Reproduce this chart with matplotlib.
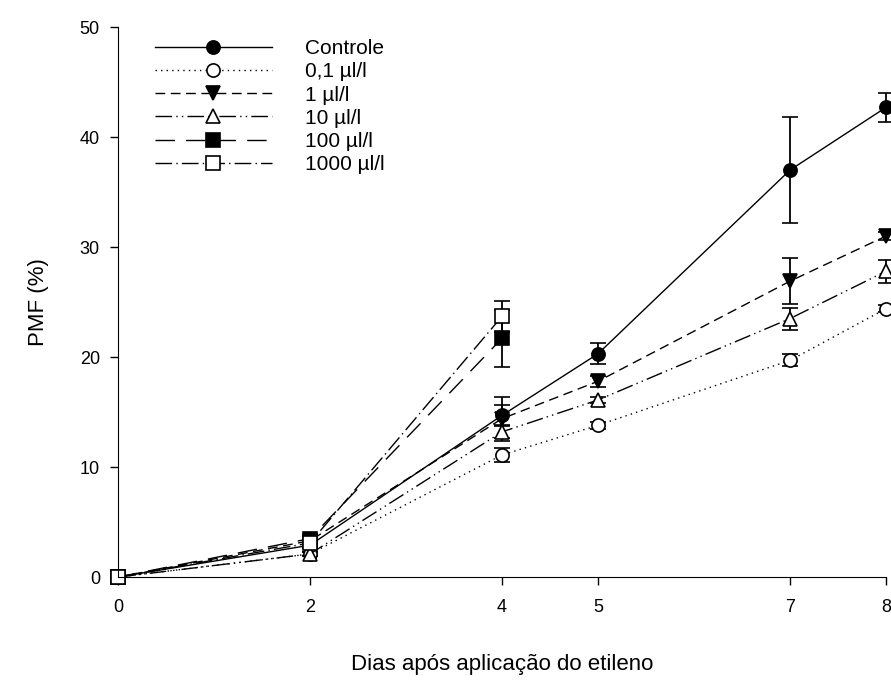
import matplotlib
matplotlib.use("Agg")
import matplotlib.pyplot as plt

plt.rcParams['font.family'] = ['Liberation Sans', 'DejaVu Sans']

W, H = 8.91, 6.87

days = [0, 2, 4, 5, 7, 8]
days_short = [0, 2, 4]

controle = [0, 2.9, 14.7, 20.3, 37.0, 42.7]
controle_err = [0, 0.3, 0.9, 0.95, 4.8, 1.35]
d01 = [0, 2.1, 11.1, 13.8, 19.7, 24.4]
d01_err = [0, 0.2, 0.6, 0.3, 0.55, 0.3]
d1 = [0, 3.3, 14.4, 17.8, 26.9, 31.0]
d1_err = [0, 0.3, 2.0, 0.5, 2.1, 0.4]
d10 = [0, 2.1, 13.2, 16.1, 23.5, 27.8]
d10_err = [0, 0.2, 0.55, 0.3, 1.0, 1.05]
d100 = [0, 3.5, 21.7]
d100_err = [0, 0.2, 2.6]
d1000 = [0, 3.1, 23.7]
d1000_err = [0, 0.2, 1.4]

labels = ['Controle', '0,1 µl/l', '1 µl/l', '10 µl/l', '100 µl/l', '1000 µl/l']

series = [
    (days, controle, controle_err, '-', 'o', 'black'),
    (days, d01, d01_err, (0, (1, 3)), 'o', 'white'),
    (days, d1, d1_err, (0, (7, 4)), 'v', 'black'),
    (days, d10, d10_err, (0, (12, 3, 1, 3, 1, 3)), '^', 'white'),
    (days_short, d100, d100_err, (0, (14, 8)), 's', 'black'),
    (days_short, d1000, d1000_err, (0, (12, 3, 1, 3)), 's', 'white'),
]

fig = plt.figure(figsize=(W, H), dpi=100)
ax = fig.add_axes([0.1324, 0.160, 0.8620, 0.8006])

handles = []
for x, y, e, ls, mk, fc in series:
    c = ax.errorbar(x, y, yerr=e, color='black', linestyle=ls, linewidth=1.0,
                    marker=mk, markersize=9.5, markerfacecolor=fc,
                    markeredgecolor='black', markeredgewidth=1.2,
                    ecolor='black', elinewidth=1.3, capsize=5.5, capthick=1.3,
                    clip_on=False)
    handles.append(c.lines[0])

ax.set_xlim(0, 8)
ax.set_ylim(0, 50)
ax.set_xticks(days)
ax.set_yticks([0, 10, 20, 30, 40, 50])
ax.spines['top'].set_visible(False)
ax.spines['right'].set_visible(False)
ax.tick_params(direction='out', length=6, width=1, labelsize=13)
ax.tick_params(axis='x', pad=10)
ax.tick_params(axis='y', pad=7)
ax.set_xlabel('Dias após aplicação do etileno', fontsize=16, labelpad=27)
ax.set_ylabel('PMF (%)', fontsize=16, labelpad=22)

ax.legend(handles, labels, loc='upper left', bbox_to_anchor=(0.048, 0.978),
          frameon=False, borderpad=0, borderaxespad=0, handlelength=5.6,
          fontsize=15, labelspacing=0.2, handletextpad=1.6)

fig.savefig('out.png', dpi=100)
